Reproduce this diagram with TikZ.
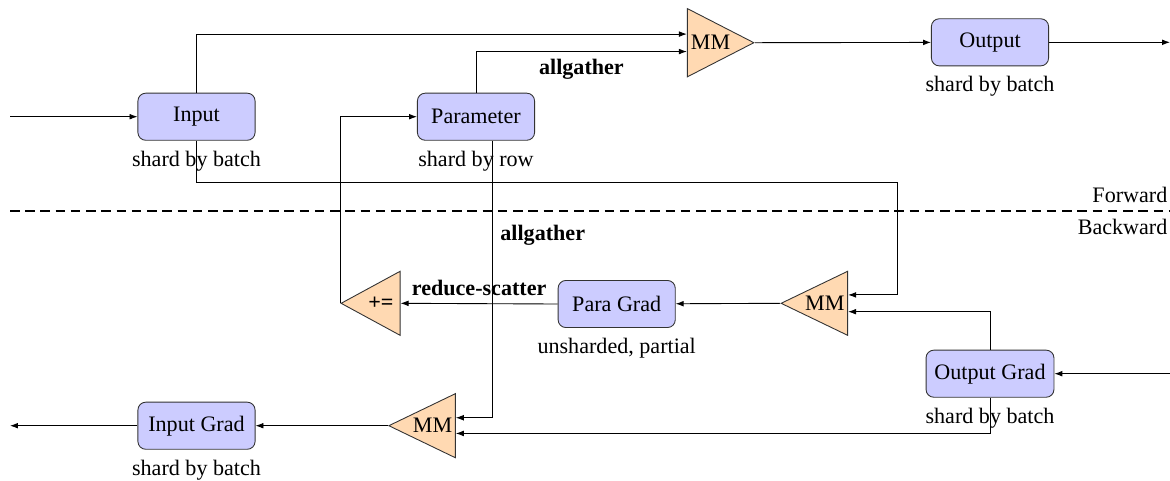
\documentclass[tikz,border=0pt]{standalone}
\usepackage{fontspec}
\setmainfont{Liberation Serif}
\usetikzlibrary{arrows.meta,positioning,shapes.geometric,calc}

\begin{document}
\begin{tikzpicture}[
    x=0.4525pt, y=-0.4525pt,
    font=\fontsize{10}{12}\selectfont,
    tensor/.style={draw=black!80, fill=blue!20, rounded corners=3.5pt, minimum width=53pt, minimum height=21.3pt, inner xsep=3.8pt},
    matmul/.style={isosceles triangle, isosceles triangle stretches, draw=black!80, fill=orange!30, inner sep=1pt, minimum width=29pt, minimum height=26.7pt},
    note/.style={font=\fontsize{10}{12}\selectfont},
    comm/.style={font=\fontsize{10}{12}\selectfont\bfseries},
    arrow/.style={-{Latex[length=3.6pt,width=2.6pt]}},
    split/.style={dash pattern=on 4.3pt off 2.6pt, line width=1.2pt},
]
    \useasboundingbox (0,0) rectangle (1170,480);

    % Forward pass
    \node[tensor] (input) at (196.5,116.7) {Input};
    \node[note, below=1pt of input] (inputnote) {shard by batch};
    \node[tensor] (param) at (476,116.7) {Parameter};
    \node[note, below=1pt of param] (paramnote) {shard by row};
    \node[matmul, minimum width=30.9pt, minimum height=29pt, anchor=apex] (mmfwd) at (755,42.7) {MM};
    \node[tensor] (output) at (990,42.3) {Output};
    \node[note, below=1pt of output] (outputnote) {shard by batch};

    \coordinate (inleft) at (10,116.7);
    \coordinate (outright) at (1170,42.3);
    \draw[arrow] (inleft) -- (input);
    \draw[arrow] (input.north) |- ([yshift=3.9pt]mmfwd.lower side);
    \draw[arrow] (param.north) |- node[comm, below, pos=0.75] {allgather} ([yshift=-4pt]mmfwd.lower side);
    \draw[arrow] (mmfwd.apex) -- (output);
    \draw[arrow] (output) -- (outright);

    % Forward / Backward split
    \coordinate (sepleft) at (10,211);
    \coordinate (sepright) at (1170,211);
    \draw[split] (sepleft) -- (sepright);
    \node[anchor=south east, inner xsep=1pt] (fwdtag) at (sepright) {Forward};
    \node[anchor=north east, inner xsep=1pt] (bwdtag) at (sepright) {Backward};

    % Backward pass
    \node[matmul, shape border rotate=180, anchor=apex] (acc) at (340,303.3) {\textbf{+=}};
    \node[tensor] (pgrad) at (616.7,304) {Para Grad};
    \node[note, below=1pt of pgrad] (pgradnote) {unsharded, partial};
    \node[matmul, shape border rotate=180, anchor=apex] (mmpg) at (780,303.3) {MM};
    \node[tensor] (ograd) at (990,373.7) {Output Grad};
    \node[note, below=1pt of ograd] (ogradnote) {shard by batch};
    \node[matmul, shape border rotate=180, anchor=apex] (mmig) at (387.7,425.7) {MM};
    \node[tensor] (igrad) at (196.5,425.7) {Input Grad};
    \node[note, below=1pt of igrad] (igradnote) {shard by batch};

    \coordinate (gradright) at (1170,373.7);
    \coordinate (gradleft) at (10,425.7);
    \coordinate (fwdturn) at (897,182.3);
    \draw[arrow] (gradright) -- (ograd);
    \draw[arrow] (input.south) |- (fwdturn) |- ([yshift=3.8pt]mmpg.lower side);
    \draw[arrow] (ograd.north) |- ([yshift=-3.8pt]mmpg.lower side);
    \draw[arrow] (mmpg.apex) -- (pgrad);
    \draw[arrow] (pgrad.west) -- node[comm, above] {reduce-scatter} (acc.lower side);
    \draw[arrow] (acc.apex) |- (param.west);
    \draw[arrow] ([xshift=7.5pt]param.south) |- node[comm, right, pos=0.17] {allgather} ([yshift=3.6pt]mmig.lower side);
    \draw[arrow] (ograd.south) |- ([yshift=-3.5pt]mmig.lower side);
    \draw[arrow] (mmig.apex) -- (igrad);
    \draw[arrow] (igrad) -- (gradleft);
\end{tikzpicture}
\end{document}
